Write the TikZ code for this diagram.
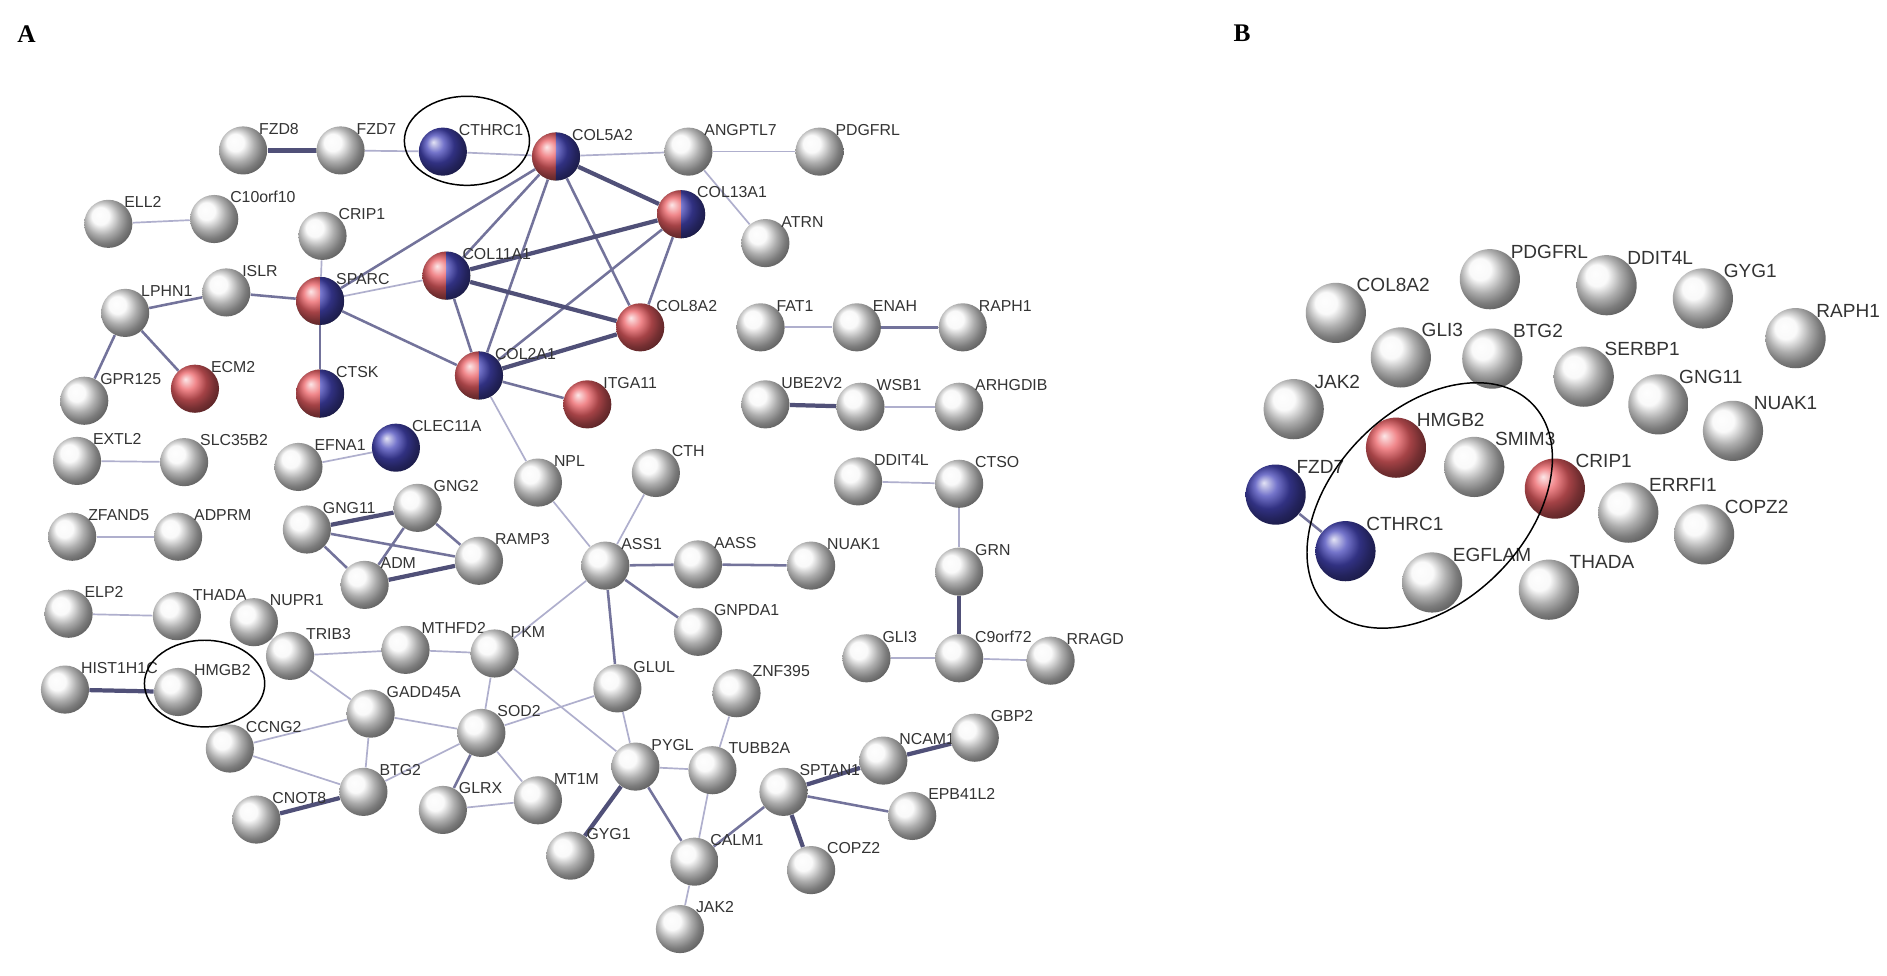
\documentclass[tikz,border=0pt]{standalone}
\usepackage{fontspec}
\setmainfont{Liberation Sans}
\newfontfamily\serifA{Liberation Serif}
\usetikzlibrary{backgrounds}
\definecolor{ethin}{RGB}{175,175,205}
\definecolor{emed}{RGB}{115,115,155}
\definecolor{ethk}{RGB}{80,80,120}
\definecolor{bred}{RGB}{235,95,100}
\definecolor{bblue}{RGB}{70,70,185}
\begin{document}
\begin{tikzpicture}[x=0.02cm,y=-0.02cm,
  ball/.style={circle,minimum size=0.8cm,inner sep=0pt,ball color=gray!6},
  bigball/.style={ball,minimum size=1cm},
  redb/.style={ball color=bred},
  blueb/.style={ball color=bblue},
  splitb/.style={path picture={
     \begin{scope}\clip (path picture bounding box.south west) rectangle (path picture bounding box.north);
       \shade[ball color=bred] (path picture bounding box.center) circle (0.4cm);\end{scope}
     \begin{scope}\clip (path picture bounding box.south) rectangle (path picture bounding box.north east);
       \shade[ball color=bblue] (path picture bounding box.center) circle (0.4cm);\end{scope}}},
  lab/.style={anchor=south west,inner sep=0pt,font=\fontsize{7.5}{9}\selectfont,text=black!80},
  blab/.style={anchor=south west,inner sep=0pt,font=\fontsize{9}{11}\selectfont,text=black!80},
  t/.style={draw=ethin,line width=0.8pt},
  m/.style={draw=emed,line width=1.2pt},
  k/.style={draw=ethk,line width=2pt},
  ring/.style={draw=black,line width=0.7pt}]
\useasboundingbox (0,0) rectangle (1568,811);
\node[font=\serifA\bfseries\fontsize{12}{14}\selectfont] (lA) at (22,28) {A};
\node[font=\serifA\bfseries\fontsize{12}{14}\selectfont] (lB) at (1032,28) {B};
\newcommand\gb[4][]{\node[ball,#1] (#2) at (#3) {}; \node[lab] at ([xshift=0.26cm,yshift=0.26cm]#2.center) {#4};}
\newcommand\bb[4][]{\node[bigball,#1] (#2) at (#3) {}; \node[blab] at ([xshift=0.34cm,yshift=0.34cm]#2.center) {#4};}
% Panel A
\gb{FZD8}{202,125}{FZD8}
\gb{FZD7}{283,125}{FZD7}
\gb[blueb]{CTHRC1}{368,126}{CTHRC1}
\gb[splitb]{COL5A2}{462,130}{COL5A2}
\gb{ANGPTL7}{572,126}{ANGPTL7}
\gb{PDGFRL}{681,126}{PDGFRL}
\gb[splitb]{COL13A1}{566,178}{COL13A1}
\gb{ATRN}{636,202}{ATRN}
\gb{ELL2}{90,186}{ELL2}
\gb{C10}{178,182}{C10orf10}
\gb{CRIP1}{268,196}{CRIP1}
\gb{ISLR}{188,243}{ISLR}
\gb[splitb]{SPARC}{266,250}{SPARC}
\gb[splitb]{COL11A1}{371,229}{COL11A1}
\gb[redb]{COL8A2}{532,272}{COL8A2}
\gb{LPHN1}{104,260}{LPHN1}
\gb{GPR125}{70,333}{GPR125}
\gb[redb]{ECM2}{162,323}{ECM2}
\gb[splitb]{CTSK}{266,327}{CTSK}
\gb[splitb]{COL2A1}{398,312}{COL2A1}
\gb[redb]{ITGA11}{488,336}{ITGA11}
\gb{FAT1}{632,272}{FAT1}
\gb{ENAH}{712,272}{ENAH}
\gb{RAPH1}{800,272}{RAPH1}
\gb{UBE2V2}{636,336}{UBE2V2}
\gb{WSB1}{715,338}{WSB1}
\gb{ARHGDIB}{797,338}{ARHGDIB}
\gb{EXTL2}{64,383}{EXTL2}
\gb{SLC35B2}{153,384}{SLC35B2}
\gb{EFNA1}{248,388}{EFNA1}
\gb[blueb]{CLEC11A}{329,372}{CLEC11A}
\gb{NPL}{447,401}{NPL}
\gb{CTH}{545,393}{CTH}
\gb{DDIT4L}{713,400}{DDIT4L}
\gb{CTSO}{797,402}{CTSO}
\gb{ZFAND5}{60,446}{ZFAND5}
\gb{ADPRM}{148,446}{ADPRM}
\gb{GNG11}{255,440}{GNG11}
\gb{GNG2}{347,422}{GNG2}
\gb{RAMP3}{398,466}{RAMP3}
\gb{ADM}{303,486}{ADM}
\gb{ASS1}{503,470}{ASS1}
\gb{AASS}{580,469}{AASS}
\gb{NUAK1}{674,470}{NUAK1}
\gb{GRN}{797,475}{GRN}
\gb{ELP2}{57,510}{ELP2}
\gb{THADA}{147,512}{THADA}
\gb{NUPR1}{211,517}{NUPR1}
\gb{GNPDA1}{580,525}{GNPDA1}
\gb{TRIB3}{241,545}{TRIB3}
\gb{MTHFD2}{337,540}{MTHFD2}
\gb{PKM}{411,543}{PKM}
\gb{GLUL}{513,572}{GLUL}
\gb{ZNF395}{612,576}{ZNF395}
\gb{GLI3}{720,547}{GLI3}
\gb{C9}{797,547}{C9orf72}
\gb{RRAGD}{873,549}{RRAGD}
\gb{HIST}{54,573}{HIST1H1C}
\gb{HMGB2}{148,575}{HMGB2}
\gb{GADD45A}{308,593}{GADD45A}
\gb{SOD2}{400,609}{SOD2}
\gb{PYGL}{528,637}{PYGL}
\gb{TUBB2A}{592,640}{TUBB2A}
\gb{SPTAN1}{651,658}{SPTAN1}
\gb{NCAM1}{734,632}{NCAM1}
\gb{GBP2}{810,613}{GBP2}
\gb{CCNG2}{191,622}{CCNG2}
\gb{BTG2}{302,658}{BTG2}
\gb{CNOT8}{213,681}{CNOT8}
\gb{GLRX}{368,673}{GLRX}
\gb{MT1M}{447,665}{MT1M}
\gb{EPB41L2}{758,678}{EPB41L2}
\gb{CALM1}{577,716}{CALM1}
\gb{GYG1}{474,711}{GYG1}
\gb{COPZ2}{674,723}{COPZ2}
\gb{JAK2}{565,772}{JAK2}
\draw[ring] (388,117) ellipse [x radius=1.04cm, y radius=0.74cm];
\draw[ring] (170,568) ellipse [x radius=1.0cm, y radius=0.72cm];
% Panel B
\bb{bCOL8A2}{1110,260}{COL8A2}
\bb{bPDGFRL}{1238,232}{PDGFRL}
\bb{bDDIT4L}{1335,237}{DDIT4L}
\bb{bGYG1}{1415,248}{GYG1}
\bb{bRAPH1}{1492,281}{RAPH1}
\bb{bGLI3}{1164,297}{GLI3}
\bb{bBTG2}{1240,298}{BTG2}
\bb{bSERBP1}{1316,313}{SERBP1}
\bb{bGNG11}{1378,336}{GNG11}
\bb{bNUAK1}{1440,358}{NUAK1}
\bb{bJAK2}{1075,340}{JAK2}
\bb[redb]{bHMGB2}{1160,372}{HMGB2}
\bb{bSMIM3}{1225,388}{SMIM3}
\bb[redb]{bCRIP1}{1292,406}{CRIP1}
\bb{bERRFI1}{1353,426}{ERRFI1}
\bb{bCOPZ2}{1416,444}{COPZ2}
\bb[blueb]{bFZD7}{1060,411}{FZD7}
\bb[blueb]{bCTHRC1}{1118,458}{CTHRC1}
\bb{bEGFLAM}{1190,484}{EGFLAM}
\bb{bTHADA}{1287,490}{THADA}
\draw[ring,rotate around={45:(1188,420)}] (1188,420) ellipse [x radius=2.4cm, y radius=1.6cm];
\begin{scope}[on background layer]
\fill[white] (0,0) rectangle (1568,811);
\draw[k] (FZD8)--(FZD7);
\draw[t] (FZD7)--(CTHRC1); \draw[t] (CTHRC1)--(COL5A2);
\draw[t] (COL5A2)--(ANGPTL7); \draw[t] (ANGPTL7)--(PDGFRL); \draw[t] (ANGPTL7)--(ATRN);
\draw[t] (ELL2)--(C10);
\draw[k] (COL5A2)--(COL13A1); \draw[m] (COL5A2)--(COL11A1); \draw[m] (COL5A2)--(COL2A1);
\draw[m] (COL5A2)--(COL8A2); \draw[m] (COL5A2)--(SPARC);
\draw[k] (COL13A1)--(COL11A1); \draw[m] (COL13A1)--(COL2A1); \draw[m] (COL13A1)--(COL8A2);
\draw[k] (COL11A1)--(COL8A2); \draw[m] (COL11A1)--(COL2A1); \draw[t] (COL11A1)--(SPARC);
\draw[k] (COL2A1)--(COL8A2); \draw[m] (COL2A1)--(SPARC); \draw[m] (COL2A1)--(ITGA11); \draw[t] (COL2A1)--(NPL);
\draw[t] (SPARC)--(CRIP1); \draw[m] (SPARC)--(ISLR); \draw[m] (SPARC)--(CTSK);
\draw[m] (ISLR)--(LPHN1); \draw[m] (LPHN1)--(GPR125); \draw[m] (LPHN1)--(ECM2);
\draw[t] (FAT1)--(ENAH); \draw[m] (ENAH)--(RAPH1);
\draw[k] (UBE2V2)--(WSB1); \draw[t] (WSB1)--(ARHGDIB);
\draw[t] (EXTL2)--(SLC35B2); \draw[t] (EFNA1)--(CLEC11A); \draw[t] (ZFAND5)--(ADPRM); \draw[t] (ELP2)--(THADA);
\draw[k] (HIST)--(HMGB2);
\draw[k] (GNG11)--(GNG2); \draw[m] (GNG11)--(RAMP3); \draw[m] (GNG11)--(ADM);
\draw[m] (GNG2)--(RAMP3); \draw[m] (GNG2)--(ADM); \draw[k] (ADM)--(RAMP3);
\draw[t] (NPL)--(ASS1); \draw[t] (CTH)--(ASS1); \draw[m] (ASS1)--(AASS); \draw[m] (AASS)--(NUAK1);
\draw[m] (ASS1)--(GNPDA1); \draw[m] (ASS1)--(GLUL); \draw[t] (ASS1)--(PKM);
\draw[t] (DDIT4L)--(CTSO); \draw[t] (CTSO)--(GRN); \draw[k] (GRN)--(C9); \draw[t] (GLI3)--(C9); \draw[t] (C9)--(RRAGD);
\draw[t] (NUPR1)--(TRIB3); \draw[t] (TRIB3)--(MTHFD2); \draw[t] (TRIB3)--(GADD45A);
\draw[t] (MTHFD2)--(PKM); \draw[t] (PKM)--(SOD2); \draw[t] (PKM)--(PYGL); \draw[t] (SOD2)--(GLUL);
\draw[t] (GADD45A)--(SOD2); \draw[t] (GADD45A)--(CCNG2); \draw[t] (GADD45A)--(BTG2); \draw[t] (CCNG2)--(BTG2);
\draw[k] (CNOT8)--(BTG2); \draw[t] (BTG2)--(SOD2); \draw[m] (SOD2)--(GLRX); \draw[t] (SOD2)--(MT1M); \draw[t] (GLRX)--(MT1M);
\draw[t] (GLUL)--(PYGL); \draw[t] (PYGL)--(TUBB2A); \draw[k] (PYGL)--(GYG1); \draw[m] (PYGL)--(CALM1);
\draw[t] (ZNF395)--(TUBB2A); \draw[t] (TUBB2A)--(CALM1); \draw[m] (CALM1)--(SPTAN1); \draw[t] (CALM1)--(JAK2);
\draw[k] (SPTAN1)--(NCAM1); \draw[k] (NCAM1)--(GBP2); \draw[m] (SPTAN1)--(EPB41L2); \draw[k] (SPTAN1)--(COPZ2);
\draw[m] (bFZD7)--(bCTHRC1);
\end{scope}
\end{tikzpicture}
\end{document}
